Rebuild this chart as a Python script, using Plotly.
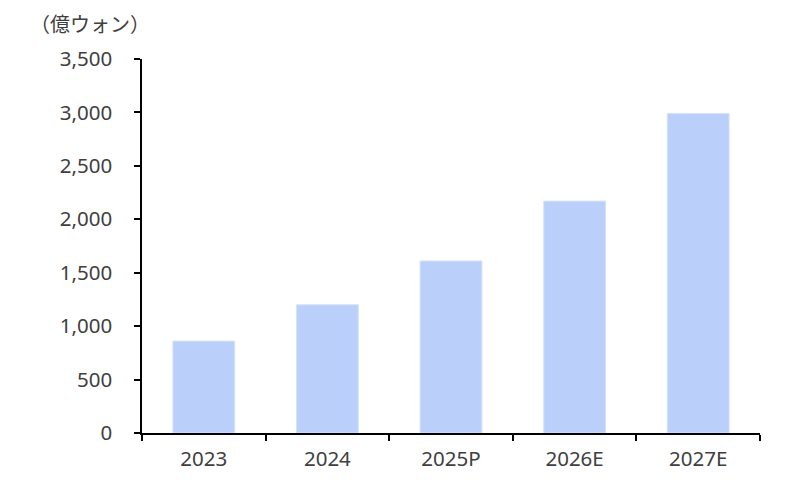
import plotly.graph_objects as go

categories = ["2023", "2024", "2025P", "2026E", "2027E"]
values = [860, 1200, 1610, 2170, 2990]
y_ticks = [0, 500, 1000, 1500, 2000, 2500, 3000, 3500]
y_tick_labels = ["0", "500", "1,000", "1,500", "2,000", "2,500", "3,000", "3,500"]
unit_label = "（億ウォン）"

tick_font = "Noto Sans, Noto Sans CJK JP, sans-serif"
title_font = "Noto Sans CJK JP, sans-serif"
text_color = "#404040"

fig = go.Figure(
    go.Bar(
        x=categories,
        y=values,
        marker=dict(color="#BAD0FB", line=dict(color="#D4E2FC", width=1)),
        width=0.5,
    )
)

fig.update_layout(
    width=800,
    height=487,
    margin=dict(l=134, r=48, t=51, b=62),
    plot_bgcolor="white",
    paper_bgcolor="white",
    showlegend=False,
    font=dict(family=tick_font, size=20, color=text_color),
    annotations=[
        dict(
            text=unit_label,
            x=-0.185, y=1.094, xref="paper", yref="paper",
            xanchor="left", yanchor="middle",
            showarrow=False,
            font=dict(family=title_font, size=20, color=text_color),
        )
    ],
)

fig.update_xaxes(
    type="category",
    showline=True, linecolor="black", linewidth=1.5,
    ticks="outside", tickson="boundaries", ticklen=6, tickcolor="black", tickwidth=1.5,
    showgrid=False,
    ticklabelstandoff=7,
    tickfont=dict(family=tick_font, size=20.5, color=text_color),
)
fig.update_yaxes(
    range=[0, 3500],
    tickvals=y_ticks, ticktext=y_tick_labels,
    showline=True, linecolor="black", linewidth=1.5,
    ticks="outside", ticklen=6, tickcolor="black", tickwidth=1.5,
    showgrid=False, zeroline=False,
    ticklabelstandoff=18,
    tickfont=dict(family=tick_font, size=20.5, color=text_color),
)

fig.write_html("out.html")
